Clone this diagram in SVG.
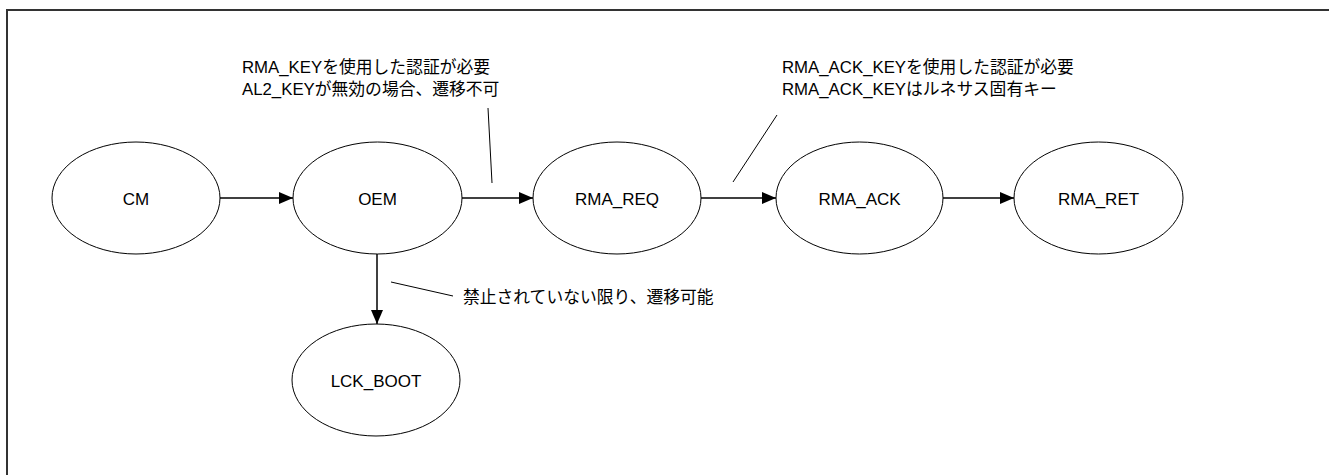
<svg xmlns="http://www.w3.org/2000/svg" width="1329" height="475" viewBox="0 0 1329 475">
<style>
.node ellipse{fill:#fff;stroke:#000;stroke-width:1}
.node text{font-family:"Liberation Sans",Arial,sans-serif;font-size:17px;fill:#000;text-anchor:middle;dominant-baseline:central}
.edge{stroke:#000;stroke-width:1.5;fill:none}
.note{stroke:#000;stroke-width:1;fill:none}
.lbl{font-family:"Liberation Sans","Noto Sans CJK JP",sans-serif;font-size:16.8px;fill:#000}
</style>
<defs>
<marker id="arr" viewBox="0 0 14 12" refX="14" refY="6" markerWidth="14" markerHeight="12" markerUnits="userSpaceOnUse" orient="auto">
<path d="M0,0 L14,6 L0,12 Z" fill="#000"/>
</marker>
</defs>
<rect x="7" y="10" width="1340" height="480" fill="#fff" stroke="#333" stroke-width="2"/>
<g id="connectors">
<line class="edge" x1="220" y1="198" x2="293" y2="198" marker-end="url(#arr)"/>
<line class="edge" x1="462" y1="198" x2="533" y2="198" marker-end="url(#arr)"/>
<line class="edge" x1="701" y1="198" x2="776" y2="198" marker-end="url(#arr)"/>
<line class="edge" x1="943" y1="198" x2="1014" y2="198" marker-end="url(#arr)"/>
<line class="edge" x1="377" y1="254" x2="377" y2="324" marker-end="url(#arr)"/>
<line class="note" x1="488" y1="108" x2="492" y2="183"/>
<line class="note" x1="777" y1="115" x2="733" y2="182"/>
<line class="note" x1="391" y1="282" x2="453" y2="296"/>
</g>
<g id="node-cm" class="node"><ellipse cx="136" cy="198" rx="84" ry="56"/><text x="136" y="199">CM</text></g>
<g id="node-oem" class="node"><ellipse cx="377.5" cy="198" rx="84.5" ry="56"/><text x="377.5" y="199">OEM</text></g>
<g id="node-rma-req" class="node"><ellipse cx="617" cy="198" rx="84" ry="56"/><text x="617" y="199">RMA_REQ</text></g>
<g id="node-rma-ack" class="node"><ellipse cx="859.5" cy="198" rx="83.5" ry="56"/><text x="859.5" y="199">RMA_ACK</text></g>
<g id="node-rma-ret" class="node"><ellipse cx="1098.5" cy="198" rx="84.5" ry="56"/><text x="1098.5" y="199">RMA_RET</text></g>
<g id="node-lck-boot" class="node"><ellipse cx="376" cy="380" rx="84" ry="56"/><text x="376" y="381">LCK_BOOT</text></g>
<g id="labels">
<text class="lbl" x="242" y="73">RMA_KEYを使用した認証が必要</text>
<text class="lbl" x="242" y="95">AL2_KEYが無効の場合、遷移不可</text>
<text class="lbl" x="782" y="73">RMA_ACK_KEYを使用した認証が必要</text>
<text class="lbl" x="782" y="95">RMA_ACK_KEYはルネサス固有キー</text>
<text class="lbl" x="463" y="303">禁止されていない限り、遷移可能</text>
</g>
</svg>
